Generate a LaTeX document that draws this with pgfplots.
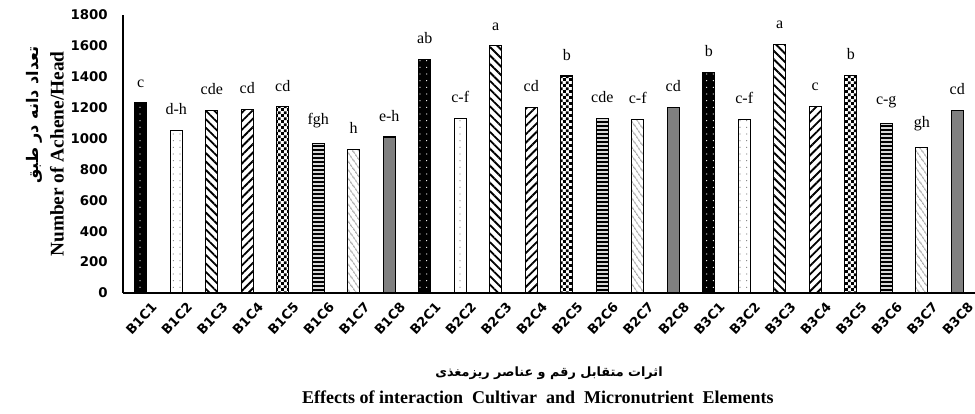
\documentclass[border=0pt]{standalone}
\usepackage{fontspec}
\setmainfont{Liberation Serif}
\newfontfamily\tickfont{DejaVu Sans}
\newfontfamily\arabicfont[Script=Arabic]{DejaVu Sans}
\TeXXeTstate=1
\usepackage{pgfplots}
\pgfplotsset{compat=1.18}
\usetikzlibrary{patterns,patterns.meta}
\definecolor{midgray}{RGB}{128,128,128}
\pgfdeclarepatternformonly{smallchecker}{\pgfpointorigin}{\pgfqpoint{4.4pt}{4.4pt}}{\pgfqpoint{4.4pt}{4.4pt}}{%
  \pgfpathrectangle{\pgfpointorigin}{\pgfqpoint{2.2pt}{2.2pt}}%
  \pgfpathrectangle{\pgfqpoint{2.2pt}{2.2pt}}{\pgfqpoint{2.2pt}{2.2pt}}%
  \pgfusepath{fill}}
\begin{document}
\begin{tikzpicture}
\begin{axis}[
  scale only axis, width=639pt, height=208.5pt,
  xmin=-0.5, xmax=23.5, ymin=0, ymax=1800,
  axis x line=bottom, axis y line=left,
  axis line style={-, line width=0.8pt},
  major tick length=0pt,
  xtick={0,...,23},
  xticklabels={B1C1,B1C2,B1C3,B1C4,B1C5,B1C6,B1C7,B1C8,B2C1,B2C2,B2C3,B2C4,B2C5,B2C6,B2C7,B2C8,B3C1,B3C2,B3C3,B3C4,B3C5,B3C6,B3C7,B3C8},
  xticklabel style={font=\tickfont\bfseries\fontsize{9.8}{11}\selectfont, rotate=47, anchor=north east, inner sep=0.5pt, yshift=-9pt, xshift=1pt},
  ytick={0,200,400,600,800,1000,1200,1400,1600,1800},
  yticklabels={0,200,400,600,800,1000,1200,1400,1600,1800},
  yticklabel style={font=\tickfont\bfseries\fontsize{10}{12}\selectfont, xshift=-8pt},
  ybar, bar width=9pt, bar shift=0pt,
  point meta=explicit symbolic,
  nodes near coords,
  nodes near coords style={font=\fontsize{12}{12}\selectfont, yshift=8pt, text=black},
  clip=false,
]
% C1
\addplot[draw=black, line width=0.8pt, fill=black, postaction={pattern={Dots[distance=5pt,radius=0.45pt]}, pattern color=white}]
  coordinates {(0,1230)[c] (8,1510)[ab] (16,1430)[b]};
% C2
\addplot[draw=black, line width=0.8pt, fill=white, postaction={pattern={Dots[distance=5pt,radius=0.45pt]}, pattern color=gray}]
  coordinates {(1,1055)[d-h] (9,1130)[c-f] (17,1125)[c-f]};
% C3
\addplot[draw=black, line width=0.8pt, fill=white, postaction={pattern={Lines[angle=-45,distance=4.5pt,line width=1.4pt]}, pattern color=black}]
  coordinates {(2,1180)[cde] (10,1600)[a] (18,1610)[a]};
% C4
\addplot[draw=black, line width=0.8pt, fill=white, postaction={pattern={Lines[angle=45,distance=4.5pt,line width=1.4pt]}, pattern color=black}]
  coordinates {(3,1190)[cd] (11,1200)[cd] (19,1210)[c]};
% C5
\addplot[draw=black, line width=0.8pt, fill=white, postaction={pattern=smallchecker, pattern color=black}]
  coordinates {(4,1205)[cd] (12,1405)[b] (20,1410)[b]};
% C6
\addplot[draw=black, line width=0.8pt, fill=gray!30, postaction={pattern={Lines[angle=0,distance=3pt,line width=1.2pt]}, pattern color=black}]
  coordinates {(5,970)[fgh] (13,1130)[cde] (21,1100)[c-g]};
% C7
\addplot[draw=black, line width=0.8pt, fill=white, postaction={pattern={Lines[angle=-55,distance=4pt,line width=0.6pt]}, pattern color=gray}]
  coordinates {(6,930)[h] (14,1125)[c-f] (22,945)[gh]};
% C8
\addplot[draw=black, line width=0.8pt, fill=midgray]
  coordinates {(7,1010)[e-h] (15,1200)[cd] (23,1180)[cd]};

\node[rotate=90, font=\arabicfont\bfseries\fontsize{12}{12}\selectfont] at (axis description cs:-0.104,0.64) {\beginR تعداد دانه در طبق\endR};
\node[rotate=90, font=\bfseries\fontsize{14.5}{14.5}\selectfont] at (axis description cs:-0.0775,0.5) {Number of Achene/Head};
\node[font=\arabicfont\bfseries\fontsize{9.6}{9.6}\selectfont] at (axis description cs:0.5,-0.288) {\beginR اثرات متقابل رقم و عناصر ریزمغذی\endR};
\node[font=\bfseries\fontsize{13.5}{13.5}\selectfont] at (axis description cs:0.487,-0.374) {Effects of interaction\ \ Cultivar\ \ and\ \ Micronutrient\ \ Elements};
\end{axis}
\pgfresetboundingbox
\path ([xshift=-92.25pt,yshift=-90.75pt]current axis.south west) rectangle ([yshift=11.25pt]current axis.north east);
\end{tikzpicture}
\end{document}
